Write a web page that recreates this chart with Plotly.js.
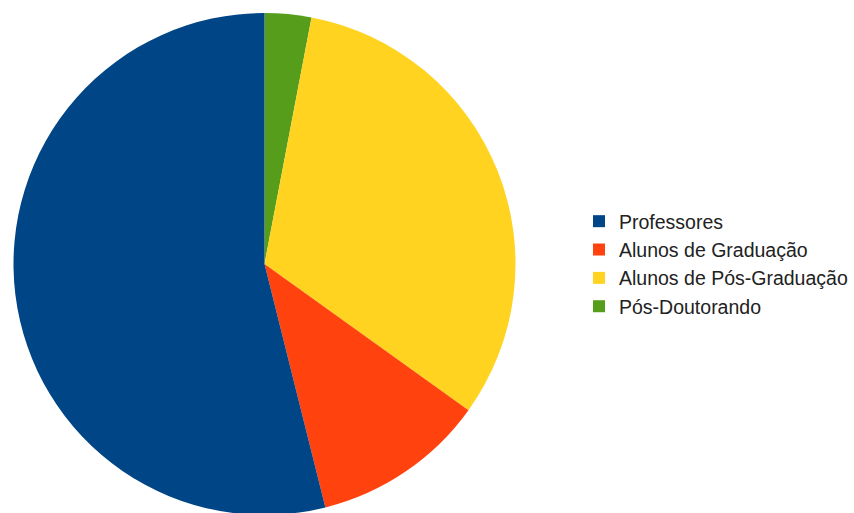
<!DOCTYPE html>
<html>
<head>
<meta charset="utf-8">
<script src="https://cdn.plot.ly/plotly-3.0.1.min.js"></script>
<style>
html,body{margin:0;padding:0;overflow:hidden;background:#fff;}
#chart{width:854px;height:515px;}
</style>
</head>
<body>
<div id="chart"></div>
<script>
const categories = ["Professores", "Alunos de Graduação", "Alunos de Pós-Graduação", "Pós-Doutorando"];
const values = [53.9, 11.2, 31.9, 3.0];
const colors = ["#004586", "#ff420e", "#ffd320", "#579d1c"];

// Slices are drawn clockwise from 12 o'clock in reverse order (as in the reference),
// and the legend is reversed back to the original order.
const trace = {
  type: "pie",
  labels: categories.slice().reverse(),
  values: values.slice().reverse(),
  marker: {colors: colors.slice().reverse(), line: {width: 0}},
  sort: false,
  direction: "clockwise",
  rotation: 0,
  textinfo: "none",
  hoverinfo: "label+percent",
  domain: {x: [13.5/854, 515.5/854], y: [0, 1]}
};

const layout = {
  width: 854,
  height: 515,
  margin: {l: 0, r: 0, t: 13, b: 0},
  paper_bgcolor: "#ffffff",
  plot_bgcolor: "#ffffff",
  showlegend: true,
  legend: {
    x: 579/854,
    xanchor: "left",
    y: 0.5,
    yanchor: "middle",
    traceorder: "reversed",
    font: {family: "Liberation Sans, Arial, sans-serif", size: 19.5, color: "#222222"},
    bgcolor: "rgba(0,0,0,0)"
  }
};

Plotly.newPlot("chart", [trace], layout, {displayModeBar: false, staticPlot: true});
</script>
</body>
</html>
